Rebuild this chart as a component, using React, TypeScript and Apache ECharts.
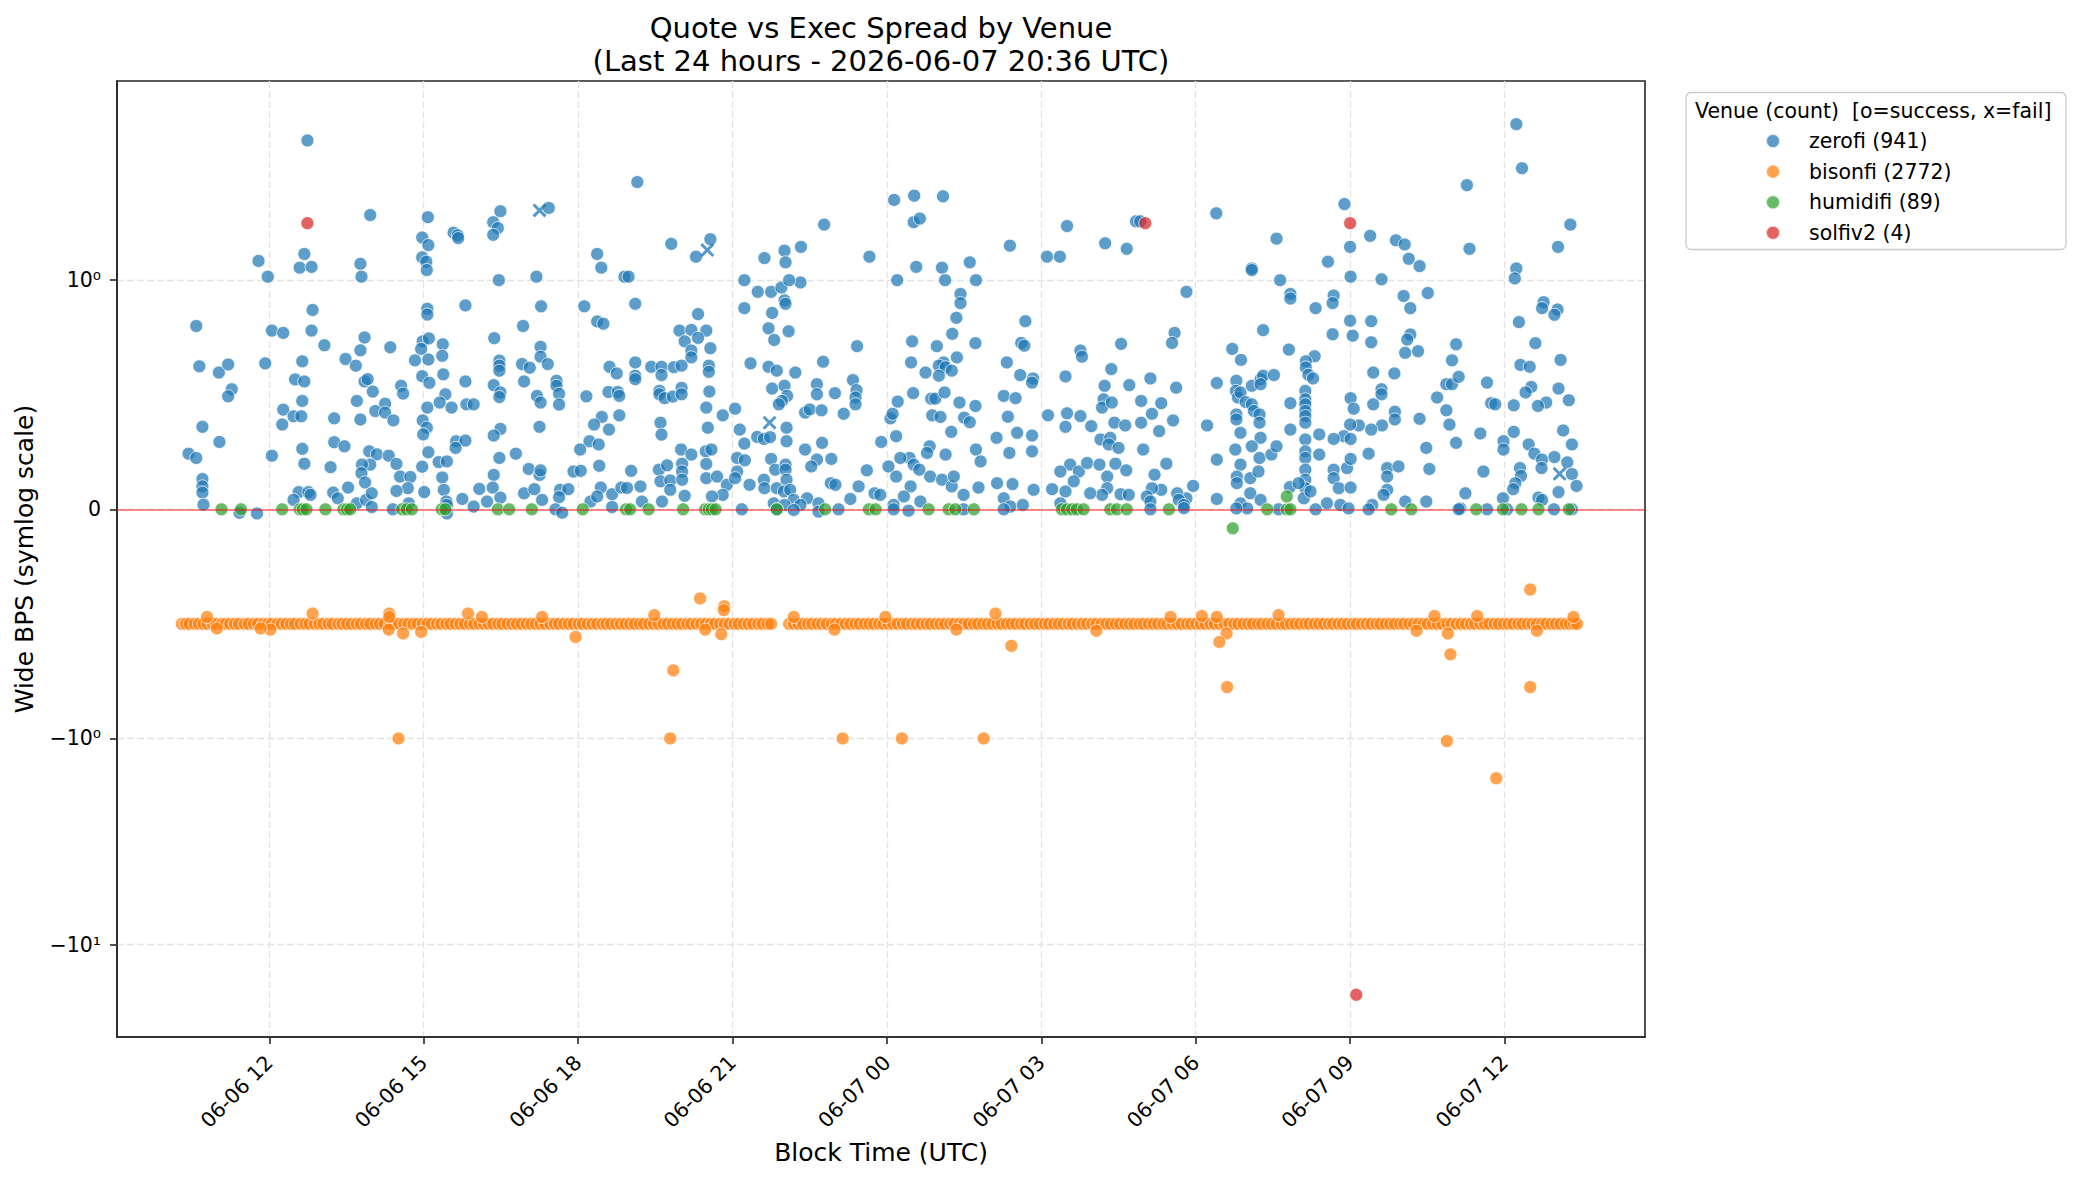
import { useEffect, useRef } from "react";
import * as echarts from "echarts";

// hours are counted from 2026-06-06 00:00 UTC, values are wide BPS
const venueNames = ["zerofi (941)", "bisonfi (2772)", "humidifi (89)", "solfiv2 (4)"];
const venueColors = ["#1f77b4", "#ff7f0e", "#2ca02c", "#d62728"];

const xTickHours = [12, 15, 18, 21, 24, 27, 30, 33, 36];
const yTickValues = [-10, -1, 0, 1];
const yTickLabels = ["\u221210\u00b9", "\u221210\u2070", "0", "10\u2070"];

const zerofi = [
  [12.74, 4.76], [13.96, 2.07], [15.08, 2.02], [15.58, 1.7], [15.66, 1.65], [15.67, 1.6], [16.49, 2.16], [16.35, 1.91],
  [16.44, 1.79], [16.35, 1.66], [17.43, 2.24], [11.79, 1.24], [11.97, 1.04], [12.68, 1.34], [12.59, 1.15], [12.82, 1.16],
  [13.77, 1.2], [13.79, 1.04], [14.97, 1.61], [15.09, 1.48], [14.97, 1.29], [15.05, 1.23], [15.06, 1.12], [16.46, 1.0],
  [17.19, 1.04], [18.37, 1.34], [18.45, 1.15], [18.9, 1.04], [12.84, 0.87], [15.81, 0.89], [15.07, 0.875], [15.07, 0.85],
  [17.28, 0.886], [18.12, 0.886], [10.58, 0.8], [12.05, 0.78], [12.27, 0.77], [12.82, 0.78], [16.93, 0.8], [18.37, 0.82],
  [18.49, 0.81], [13.85, 0.75], [13.07, 0.716], [13.77, 0.694], [14.35, 0.707], [14.98, 0.733], [15.1, 0.746], [14.95, 0.7],
  [15.37, 0.72], [15.36, 0.67], [16.37, 0.747], [17.27, 0.709], [17.27, 0.666], [10.64, 0.624], [11.02, 0.597], [11.2, 0.632],
  [11.92, 0.637], [12.64, 0.646], [13.48, 0.656], [13.68, 0.627], [14.83, 0.65], [15.09, 0.654], [16.47, 0.649], [16.47, 0.627],
  [16.47, 0.605], [16.91, 0.634], [17.06, 0.618], [17.41, 0.634], [18.61, 0.622], [18.75, 0.593], [12.5, 0.567], [12.68, 0.558],
  [13.85, 0.558], [13.91, 0.568], [15.38, 0.589], [14.97, 0.581], [15.11, 0.552], [15.81, 0.558], [16.36, 0.542], [16.49, 0.51],
  [16.47, 0.49], [16.95, 0.558], [17.58, 0.561], [17.58, 0.539], [17.63, 0.504], [17.63, 0.457], [11.27, 0.524], [11.2, 0.493],
  [14.56, 0.539], [14.6, 0.505], [14.01, 0.514], [18.59, 0.512], [18.77, 0.512], [18.8, 0.495], [18.16, 0.493], [12.64, 0.473],
  [13.7, 0.473], [15.42, 0.502], [15.31, 0.466], [15.83, 0.458], [15.97, 0.458], [15.54, 0.444], [14.25, 0.461], [14.06, 0.429],
  [14.25, 0.422], [15.07, 0.444], [17.2, 0.495], [17.27, 0.466], [12.27, 0.435], [12.47, 0.406], [12.62, 0.406], [13.26, 0.397],
  [13.77, 0.392], [14.41, 0.388], [12.25, 0.37], [10.7, 0.36], [14.98, 0.388], [15.06, 0.356], [14.99, 0.327], [16.49, 0.351],
  [16.36, 0.322], [17.25, 0.36], [18.46, 0.403], [18.31, 0.37], [18.6, 0.348], [18.8, 0.41], [11.03, 0.294], [13.26, 0.293],
  [13.46, 0.275], [15.63, 0.297], [15.81, 0.3], [15.62, 0.268], [18.22, 0.297], [18.4, 0.283], [12.64, 0.264], [18.04, 0.261],
  [10.43, 0.243], [10.58, 0.224], [12.05, 0.234], [13.94, 0.253], [14.09, 0.24], [14.32, 0.234], [13.96, 0.195], [13.8, 0.195],
  [15.09, 0.249], [15.29, 0.206], [15.45, 0.209], [16.47, 0.224], [16.79, 0.243], [12.68, 0.199], [13.19, 0.184], [14.47, 0.198],
  [14.97, 0.186], [18.41, 0.19], [10.7, 0.132], [10.7, 0.1], [10.7, 0.073], [13.79, 0.158], [13.86, 0.117], [14.54, 0.143],
  [14.74, 0.141], [14.69, 0.092], [15.36, 0.139], [16.36, 0.15], [17.04, 0.176], [17.25, 0.15], [17.27, 0.17], [17.91, 0.165],
  [18.05, 0.168], [13.53, 0.095], [14.47, 0.08], [13.24, 0.073], [13.33, 0.048], [12.57, 0.075], [12.76, 0.075], [12.8, 0.063],
  [12.47, 0.041], [15.01, 0.075], [15.39, 0.085], [15.44, 0.034], [15.45, 0.019], [16.08, 0.089], [16.34, 0.095], [16.23, 0.034],
  [16.49, 0.051], [15.75, 0.045], [15.97, 0.012], [16.95, 0.07], [17.15, 0.088], [17.3, 0.041], [17.65, 0.085], [17.81, 0.088],
  [17.63, 0.053], [18.44, 0.095], [18.66, 0.066], [18.84, 0.095], [18.24, 0.034], [18.37, 0.056], [13.7, 0.026], [13.88, 0.041],
  [13.99, 0.07], [14.71, 0.026], [11.42, -0.015], [11.76, -0.018], [13.99, 0.01], [14.4, 0], [15.45, -0.018], [17.56, 0],
  [17.69, -0.015], [18.66, 0.01], [10.72, 0.02],
  [19.15, 2.99], [18.98, 1.04], [19.11, 0.897], [19.81, 1.5], [20.57, 1.58], [20.29, 1.3], [21.23, 1.0], [21.23, 0.878],
  [21.62, 1.28], [22.01, 1.39], [22.03, 1.22], [22.33, 1.45], [22.32, 0.99], [21.49, 0.949], [21.75, 0.949], [21.95, 0.968],
  [22.1, 1.0], [22.01, 0.912], [22.03, 0.897], [21.77, 0.857], [21.7, 0.79], [21.81, 0.739], [22.09, 0.777], [22.78, 1.86],
  [23.66, 1.3], [24.14, 2.45], [24.53, 2.57], [25.09, 2.55], [24.52, 1.91], [24.64, 1.99], [24.57, 1.16], [24.2, 1.0],
  [25.07, 1.15], [25.13, 1.0], [25.61, 1.22], [25.73, 1.0], [25.43, 0.94], [25.43, 0.9], [25.35, 0.836], [25.27, 0.766],
  [25.72, 0.725], [26.39, 1.47], [26.69, 0.821], [27.11, 1.3], [27.36, 1.3], [27.5, 1.83], [28.24, 1.51], [28.66, 1.42],
  [28.84, 1.93], [20.33, 0.852], [19.97, 0.78], [20.2, 0.783], [20.49, 0.78], [20.07, 0.733], [20.33, 0.748], [20.57, 0.703],
  [20.2, 0.693], [20.2, 0.663], [19.11, 0.641], [19.11, 0.583], [19.11, 0.568], [19.42, 0.622], [19.62, 0.622], [19.86, 0.62],
  [20.01, 0.627], [19.62, 0.586], [20.54, 0.627], [20.54, 0.6], [19.58, 0.517], [19.58, 0.502], [19.68, 0.485], [19.84, 0.492],
  [20.01, 0.53], [20.01, 0.502], [20.55, 0.514], [20.49, 0.444], [20.81, 0.41], [21.05, 0.439], [20.52, 0.356], [19.6, 0.378],
  [19.62, 0.326], [21.35, 0.637], [21.7, 0.622], [21.86, 0.605], [22.22, 0.597], [21.77, 0.527], [22.01, 0.539], [22.06, 0.495],
  [21.96, 0.473], [21.9, 0.458], [22.76, 0.644], [22.64, 0.546], [22.64, 0.502], [22.99, 0.507], [23.42, 0.712], [23.34, 0.564],
  [23.41, 0.52], [23.39, 0.488], [23.39, 0.458], [22.41, 0.422], [22.5, 0.436], [22.73, 0.432], [23.16, 0.417], [21.14, 0.348],
  [22.05, 0.356], [21.48, 0.316], [21.61, 0.307], [21.73, 0.315], [22.05, 0.297], [21.23, 0.287], [22.74, 0.29], [22.41, 0.261],
  [22.64, 0.217], [22.53, 0.187], [22.92, 0.22], [20.0, 0.261], [20.2, 0.239], [20.48, 0.253], [20.59, 0.261], [19.03, 0.168],
  [19.21, 0.1], [19.57, 0.173], [19.73, 0.192], [20.02, 0.199], [20.02, 0.165], [19.6, 0.122], [19.79, 0.126], [19.79, 0.085],
  [20.02, 0.129], [20.07, 0.059], [19.63, 0.034], [19.24, 0.034], [20.49, 0.198], [20.49, 0.136], [20.7, 0.143], [20.89, 0.107],
  [20.81, 0.063], [20.6, 0.056], [21.09, 0.224], [21.09, 0.165], [21.24, 0.214], [21.05, 0.136], [21.33, 0.107], [21.61, 0.129],
  [21.62, 0.092], [21.75, 0.22], [21.83, 0.173], [22.03, 0.195], [22.03, 0.173], [22.05, 0.129], [21.86, 0.092], [22.0, 0.078],
  [22.12, 0.085], [22.19, 0.041], [21.8, 0.026], [22.01, 0.019], [22.45, 0.048], [22.67, 0.026], [22.67, -0.01], [22.32, 0.019],
  [22.91, 0.114], [23.0, 0.107], [23.45, 0.1], [23.29, 0.045], [23.61, 0.17], [23.76, 0.07], [23.87, 0.063], [23.89, 0.294],
  [24.18, 0.319], [24.07, 0.397], [24.11, 0.417], [24.21, 0.47], [24.51, 0.507], [24.49, 0.733], [24.47, 0.641], [24.75, 0.597],
  [24.97, 0.712], [25.1, 0.641], [25.01, 0.627], [25.14, 0.62], [25.01, 0.583], [25.26, 0.605], [25.36, 0.663], [24.86, 0.483],
  [24.94, 0.483], [25.12, 0.51], [25.41, 0.466], [25.72, 0.451], [24.88, 0.41], [25.04, 0.403], [25.5, 0.4], [25.61, 0.38],
  [25.25, 0.338], [25.73, 0.261], [25.82, 0.209], [25.14, 0.239], [24.83, 0.275], [24.78, 0.246], [24.44, 0.224], [24.52, 0.195],
  [24.63, 0.173], [24.03, 0.187], [24.18, 0.143], [24.26, 0.224], [24.84, 0.143], [25.07, 0.129], [25.26, 0.1], [25.3, 0.143],
  [24.46, 0.1], [24.33, 0.056], [24.65, 0.034], [24.13, 0.019], [25.49, 0.063], [25.78, 0.095], [26.13, 0.312], [26.27, 0.495],
  [26.5, 0.485], [26.33, 0.641], [26.59, 0.586], [26.84, 0.571], [26.82, 0.553], [26.61, 0.726], [26.67, 0.714], [26.35, 0.404],
  [26.53, 0.334], [26.82, 0.322], [26.82, 0.253], [26.38, 0.246], [26.14, 0.114], [26.44, 0.11], [26.85, 0.085], [26.27, 0.048],
  [26.4, 0.012], [26.64, 0.019], [27.21, 0.088], [27.13, 0.41], [27.47, 0.58], [27.5, 0.419], [27.47, 0.36], [27.76, 0.693],
  [27.79, 0.666], [27.76, 0.407], [27.97, 0.363], [28.55, 0.722], [28.36, 0.612], [28.23, 0.539], [28.71, 0.542], [28.21, 0.48],
  [28.18, 0.444], [28.37, 0.466], [28.42, 0.378], [28.63, 0.366], [28.15, 0.305], [28.34, 0.312], [28.31, 0.283], [28.5, 0.268],
  [27.56, 0.195], [27.37, 0.165], [27.73, 0.165], [27.63, 0.122], [27.89, 0.202], [28.13, 0.195], [28.44, 0.199], [28.65, 0.17],
  [28.28, 0.143], [28.28, 0.092], [28.54, 0.066], [28.18, 0.063], [28.7, 0.063], [27.47, 0.078], [27.37, 0.026], [27.95, 0.07],
  [21.18, 0], [21.86, 0], [22.19, -0.003], [23.06, 0], [24.13, 0], [24.42, -0.006], [26.27, 0], [25.49, 0], [18.95, 0.093],
  [28.92, 1.93], [30.4, 2.11], [32.89, 2.34], [36.23, 5.71], [36.34, 3.49], [35.27, 2.89], [35.32, 1.42], [37.28, 1.86],
  [37.04, 1.45], [31.57, 1.59], [33.0, 1.45], [33.39, 1.64], [33.89, 1.56], [34.06, 1.49], [34.14, 1.27], [34.35, 1.17],
  [32.57, 1.23], [31.09, 1.14], [31.09, 1.12], [31.64, 1.0], [33.01, 1.04], [33.61, 1.01], [36.23, 1.14], [36.2, 1.02],
  [29.82, 0.949], [31.84, 0.94], [31.84, 0.92], [32.68, 0.933], [32.66, 0.9], [32.33, 0.878], [34.04, 0.931], [34.17, 0.878],
  [34.51, 0.944], [33.0, 0.823], [33.41, 0.821], [32.66, 0.764], [33.05, 0.758], [33.41, 0.729], [31.31, 0.782], [29.59, 0.77],
  [29.54, 0.726], [34.17, 0.763], [34.11, 0.741], [34.07, 0.683], [34.32, 0.69], [36.76, 0.904], [36.73, 0.878], [37.03, 0.872],
  [36.97, 0.849], [36.28, 0.817], [36.6, 0.725], [35.06, 0.72], [34.98, 0.65], [37.09, 0.652], [30.71, 0.7], [30.88, 0.652],
  [31.81, 0.697], [32.31, 0.668], [32.14, 0.646], [32.14, 0.619], [32.19, 0.587], [32.28, 0.571], [29.12, 0.571], [29.62, 0.531],
  [30.41, 0.551], [30.79, 0.561], [30.78, 0.517], [30.82, 0.488], [31.09, 0.539], [31.26, 0.568], [31.31, 0.583], [31.52, 0.586],
  [31.26, 0.546], [33.45, 0.597], [33.86, 0.593], [33.61, 0.524], [33.61, 0.502], [33.45, 0.458], [33.01, 0.485], [33.07, 0.439],
  [32.13, 0.517], [32.13, 0.48], [32.13, 0.458], [32.13, 0.429], [32.13, 0.407], [32.13, 0.378], [31.84, 0.463], [28.94, 0.473],
  [29.33, 0.463], [29.15, 0.417], [28.94, 0.378], [29.56, 0.388], [29.29, 0.341], [30.22, 0.366], [30.79, 0.414], [30.79, 0.392],
  [30.87, 0.334], [30.87, 0.51], [30.97, 0.468], [31.09, 0.458], [31.13, 0.429], [31.24, 0.414], [31.24, 0.378], [31.26, 0.312],
  [31.84, 0.348], [34.69, 0.488], [34.87, 0.546], [34.98, 0.546], [35.11, 0.578], [34.87, 0.432], [34.93, 0.37], [35.06, 0.29],
  [35.66, 0.553], [35.74, 0.463], [35.82, 0.458], [35.53, 0.331], [36.18, 0.454], [36.18, 0.338], [36.31, 0.63], [36.49, 0.622],
  [36.52, 0.534], [36.41, 0.51], [36.81, 0.466], [36.65, 0.451], [37.05, 0.527], [37.25, 0.476], [37.14, 0.344], [34.35, 0.395],
  [33.87, 0.426], [33.87, 0.392], [33.62, 0.366], [33.41, 0.348], [33.17, 0.366], [33.0, 0.37], [32.88, 0.319], [33.01, 0.307],
  [32.4, 0.327], [32.68, 0.307], [32.13, 0.305], [32.13, 0.253], [32.13, 0.224], [32.13, 0.173], [32.13, 0.129], [32.13, 0.092],
  [32.4, 0.239], [30.77, 0.261], [30.87, 0.195], [30.8, 0.143], [30.8, 0.114], [31.06, 0.136], [31.24, 0.224], [31.22, 0.165],
  [31.09, 0.275], [31.47, 0.239], [31.57, 0.275], [30.41, 0.217], [28.98, 0.261], [29.43, 0.199], [29.2, 0.151], [29.33, 0.085],
  [29.15, 0.092], [29.05, 0.056], [29.95, 0.102], [29.82, 0.048], [29.64, 0.07], [29.67, 0.041], [29.77, 0.019], [29.12, 0.034],
  [30.41, 0.045], [31.83, 0.097], [32.0, 0.114], [32.1, 0.048], [32.23, 0.078], [31.06, 0.07], [31.26, 0.041], [30.87, 0.026],
  [31.0, 0.004], [32.68, 0.173], [32.68, 0.136], [32.78, 0.092], [33.01, 0.095], [32.94, 0.18], [33.01, 0.22], [32.55, 0.026],
  [32.81, 0.019], [32.97, 0.004], [33.36, 0.243], [33.72, 0.18], [33.72, 0.143], [33.94, 0.187], [33.72, 0.085], [33.65, 0.063],
  [33.43, 0.019], [33.36, 0], [34.48, 0.268], [34.54, 0.176], [34.48, 0.034], [34.07, 0.034], [35.59, 0.165], [35.24, 0.07],
  [35.14, 0.004], [35.66, 0], [35.98, 0.297], [35.98, 0.261], [36.3, 0.18], [36.32, 0.146], [36.21, 0.114], [36.17, 0.088],
  [36.47, 0.283], [36.58, 0.243], [36.73, 0.217], [36.72, 0.18], [36.97, 0.228], [37.22, 0.205], [37.31, 0.154], [37.4, 0.102],
  [37.05, 0.075], [37.31, 0.283], [35.97, 0.048], [36.66, 0.051], [36.73, 0.041], [29.12, 0], [29.77, 0.005], [30.79, 0.004],
  [31.61, 0], [32.33, 0], [36.96, 0], [37.31, 0], [35.11, 0], [36.05, 0],
];

// zerofi swaps that failed (drawn with x)
const zerofiFailed = [[17.25, 2.18], [20.51, 1.4], [21.72, 0.378], [37.07, 0.155]];

const bisonfi = [
  [10.3, -0.5], [10.38, -0.5], [10.45, -0.5], [10.55, -0.5], [10.63, -0.5], [10.72, -0.5], [10.8, -0.5], [10.9, -0.5],
  [10.97, -0.5], [11.08, -0.5], [11.15, -0.5], [11.24, -0.5], [11.33, -0.5], [11.41, -0.5], [11.52, -0.5], [11.6, -0.5],
  [11.7, -0.5], [11.78, -0.5], [11.88, -0.5], [11.97, -0.5], [12.05, -0.5], [12.16, -0.5], [12.24, -0.5], [12.33, -0.5],
  [12.42, -0.5], [12.5, -0.5], [12.61, -0.5], [12.7, -0.5], [12.78, -0.5], [12.88, -0.5], [12.97, -0.5], [13.05, -0.5],
  [13.15, -0.5], [13.23, -0.5], [13.34, -0.5], [13.42, -0.5], [13.51, -0.5], [13.6, -0.5], [13.7, -0.5], [13.78, -0.5],
  [13.88, -0.5], [13.96, -0.5], [14.07, -0.5], [14.15, -0.5], [14.24, -0.5], [14.35, -0.5], [14.43, -0.5], [14.52, -0.5],
  [14.62, -0.5], [14.7, -0.5], [14.8, -0.5], [14.88, -0.5], [14.98, -0.5], [15.07, -0.5], [15.16, -0.5], [15.26, -0.5],
  [15.34, -0.5], [15.44, -0.5], [15.52, -0.5], [15.62, -0.5], [15.71, -0.5], [15.8, -0.5], [15.9, -0.5], [15.98, -0.5],
  [16.08, -0.5], [16.17, -0.5], [16.26, -0.5], [16.35, -0.5], [16.45, -0.5], [16.53, -0.5], [16.63, -0.5], [16.72, -0.5],
  [16.81, -0.5], [16.9, -0.5], [17.0, -0.5], [17.09, -0.5], [17.18, -0.5], [17.27, -0.5], [17.36, -0.5], [17.46, -0.5],
  [17.55, -0.5], [17.63, -0.5], [17.73, -0.5], [17.82, -0.5], [17.91, -0.5], [18.01, -0.5], [18.09, -0.5], [18.19, -0.5],
  [18.28, -0.5], [18.37, -0.5], [18.47, -0.5], [18.55, -0.5], [18.64, -0.5], [18.74, -0.5], [18.83, -0.5], [18.92, -0.5],
  [19.01, -0.5], [19.1, -0.5], [19.2, -0.5], [19.28, -0.5], [19.38, -0.5], [19.47, -0.5], [19.56, -0.5], [19.66, -0.5],
  [19.74, -0.5], [19.84, -0.5], [19.93, -0.5], [20.02, -0.5], [20.12, -0.5], [20.2, -0.5], [20.3, -0.5], [20.39, -0.5],
  [20.48, -0.5], [20.58, -0.5], [20.66, -0.5], [20.76, -0.5], [20.85, -0.5], [20.94, -0.5], [21.04, -0.5], [21.12, -0.5],
  [21.22, -0.5], [21.31, -0.5], [21.4, -0.5], [21.5, -0.5], [21.58, -0.5], [21.68, -0.5], [21.75, -0.5], [22.1, -0.5],
  [22.19, -0.5], [22.28, -0.5], [22.37, -0.5], [22.47, -0.5], [22.55, -0.5], [22.65, -0.5], [22.74, -0.5], [22.83, -0.5],
  [22.93, -0.5], [23.01, -0.5], [23.11, -0.5], [23.2, -0.5], [23.29, -0.5], [23.39, -0.5], [23.47, -0.5], [23.57, -0.5],
  [23.66, -0.5], [23.75, -0.5], [23.85, -0.5], [23.93, -0.5], [24.03, -0.5], [24.12, -0.5], [24.21, -0.5], [24.31, -0.5],
  [24.39, -0.5], [24.49, -0.5], [24.58, -0.5], [24.67, -0.5], [24.77, -0.5], [24.85, -0.5], [24.95, -0.5], [25.04, -0.5],
  [25.13, -0.5], [25.23, -0.5], [25.31, -0.5], [25.41, -0.5], [25.5, -0.5], [25.59, -0.5], [25.69, -0.5], [25.77, -0.5],
  [25.87, -0.5], [25.96, -0.5], [26.05, -0.5], [26.15, -0.5], [26.23, -0.5], [26.33, -0.5], [26.42, -0.5], [26.51, -0.5],
  [26.61, -0.5], [26.69, -0.5], [26.79, -0.5], [26.88, -0.5], [26.97, -0.5], [27.07, -0.5], [27.15, -0.5], [27.25, -0.5],
  [27.34, -0.5], [27.43, -0.5], [27.53, -0.5], [27.61, -0.5], [27.71, -0.5], [27.8, -0.5], [27.89, -0.5], [27.99, -0.5],
  [28.07, -0.5], [28.17, -0.5], [28.26, -0.5], [28.35, -0.5], [28.45, -0.5], [28.53, -0.5], [28.63, -0.5], [28.72, -0.5],
  [28.81, -0.5], [28.91, -0.5], [28.99, -0.5], [29.09, -0.5], [29.18, -0.5], [29.27, -0.5], [29.37, -0.5], [29.45, -0.5],
  [29.55, -0.5], [29.64, -0.5], [29.73, -0.5], [29.83, -0.5], [29.91, -0.5], [30.01, -0.5], [30.1, -0.5], [30.19, -0.5],
  [30.29, -0.5], [30.37, -0.5], [30.47, -0.5], [30.56, -0.5], [30.65, -0.5], [30.75, -0.5], [30.83, -0.5], [30.93, -0.5],
  [31.02, -0.5], [31.11, -0.5], [31.21, -0.5], [31.29, -0.5], [31.39, -0.5], [31.48, -0.5], [31.57, -0.5], [31.67, -0.5],
  [31.75, -0.5], [31.85, -0.5], [31.94, -0.5], [32.03, -0.5], [32.13, -0.5], [32.21, -0.5], [32.31, -0.5], [32.4, -0.5],
  [32.49, -0.5], [32.59, -0.5], [32.67, -0.5], [32.77, -0.5], [32.86, -0.5], [32.95, -0.5], [33.05, -0.5], [33.13, -0.5],
  [33.23, -0.5], [33.32, -0.5], [33.41, -0.5], [33.51, -0.5], [33.59, -0.5], [33.69, -0.5], [33.78, -0.5], [33.87, -0.5],
  [33.97, -0.5], [34.05, -0.5], [34.15, -0.5], [34.24, -0.5], [34.33, -0.5], [34.43, -0.5], [34.51, -0.5], [34.61, -0.5],
  [34.7, -0.5], [34.79, -0.5], [34.89, -0.5], [34.97, -0.5], [35.07, -0.5], [35.16, -0.5], [35.25, -0.5], [35.35, -0.5],
  [35.43, -0.5], [35.53, -0.5], [35.62, -0.5], [35.71, -0.5], [35.81, -0.5], [35.89, -0.5], [35.99, -0.5], [36.08, -0.5],
  [36.17, -0.5], [36.27, -0.5], [36.35, -0.5], [36.45, -0.5], [36.54, -0.5], [36.63, -0.5], [36.73, -0.5], [36.81, -0.5],
  [36.91, -0.5], [37.0, -0.5], [37.09, -0.5], [37.19, -0.5], [37.27, -0.5], [37.35, -0.5], [37.41, -0.5],
  // off-band fills
  [12.84, -0.455], [14.33, -0.455], [14.33, -0.47], [15.86, -0.455], [12.02, -0.525], [10.98, -0.52], [11.83, -0.52],
  [14.6, -0.542], [14.95, -0.535], [14.32, -0.525], [17.95, -0.557], [14.51, -1.0], [10.79, -0.47], [16.13, -0.47],
  [17.3, -0.47], [19.48, -0.462], [20.37, -0.389], [20.84, -0.423], [20.83, -0.44], [20.78, -0.545], [20.47, -0.525],
  [19.85, -0.703], [19.79, -1.0], [22.19, -0.47], [22.98, -0.525], [23.14, -1.0], [23.97, -0.47], [24.29, -1.0],
  [25.88, -1.0], [26.11, -0.455], [26.42, -0.596], [25.35, -0.525], [28.07, -0.53], [29.51, -0.47], [30.12, -0.466],
  [30.41, -0.47], [30.6, -0.542], [30.46, -0.579], [30.61, -0.776], [31.61, -0.462], [34.29, -0.53], [34.64, -0.466],
  [34.9, -0.542], [34.95, -0.633], [34.88, -1.03], [35.47, -0.466], [35.84, -1.56], [36.5, -0.35], [36.5, -0.776],
  [37.34, -0.47], [36.63, -0.53],
];

const humidifi = [
  [11.07, 0], [11.45, 0], [12.25, 0], [12.59, 0], [12.65, 0], [12.72, 0], [13.09, 0], [13.44, 0], [13.51, 0], [13.57, 0],
  [14.58, 0], [14.67, 0], [14.77, 0], [15.35, 0], [15.42, 0], [16.44, 0], [16.66, 0], [17.1, 0], [18.09, 0], [18.93, 0],
  [19.01, 0], [19.37, 0], [20.04, 0], [20.47, 0], [20.54, 0], [20.6, 0], [20.67, 0], [21.86, 0], [22.8, 0], [23.65, 0],
  [23.78, 0], [24.81, 0], [25.2, 0], [25.33, 0], [25.69, 0], [27.4, 0], [27.5, 0], [27.6, 0], [27.69, 0], [27.82, 0],
  [28.34, 0], [28.47, 0], [28.66, 0], [29.48, 0], [31.39, 0], [31.77, 0], [31.84, 0], [33.8, 0], [34.19, 0], [35.45, 0],
  [35.97, 0], [36.33, 0], [36.66, 0], [37.25, 0], [31.77, 0.056], [30.72, -0.083],
];

const solfiv2 = [[12.74, 1.89], [29.02, 1.89], [33.0, 1.89], [33.12, -17.5]];

const FONT = '"DejaVu Sans", sans-serif';
const LIN = 1 / (1 - 1 / 10);

// matplotlib symlog, linthresh 1, linscale 1, base 10
function symlog(v: number) {
  const a = Math.abs(v);
  return a <= 1 ? v * LIN : Math.sign(v) * (LIN + Math.log10(a));
}

function hourLabel(h: number) {
  const day = 6 + Math.floor(h / 24);
  const hh = String(h % 24).padStart(2, "0");
  return `06-0${day} ${hh}`;
}

const X_CROSS =
  "path://M1.5,0 L5,3.5 L8.5,0 L10,1.5 L6.5,5 L10,8.5 L8.5,10 L5,6.5 L1.5,10 L0,8.5 L3.5,5 L0,1.5 Z";

export default function App() {
  const chartRef = useRef<HTMLDivElement>(null);

  useEffect(() => {
    document.body.style.margin = "0";
    if (!chartRef.current) return;
    const chart = echarts.init(chartRef.current, undefined, { renderer: "svg" });

    const yTickPos = yTickValues.map(symlog);
    const toPoints = (arr: number[][]) => arr.map(([h, v]) => [h, symlog(v)]);

    const scatter = (name: string, color: string, data: number[][]) => ({
      name,
      type: "scatter",
      data: toPoints(data),
      symbol: "circle",
      symbolSize: 13,
      itemStyle: { color, opacity: 0.72, borderColor: "#ffffff", borderWidth: 1 },
      emphasis: { disabled: true },
      silent: true,
    });

    const humidifiSeries: any = scatter(venueNames[2], venueColors[2], humidifi);
    humidifiSeries.markLine = {
      silent: true,
      symbol: "none",
      label: { show: false },
      lineStyle: { color: "#ff0000", width: 1.6, opacity: 0.6, type: "solid" },
      data: [{ yAxis: 0 }],
    };

    const axisColor = "#262626";
    const gridLine = { show: true, lineStyle: { color: "#e3e3e3", width: 1.3, type: [7, 3] } };

    const option = {
      animation: false,
      backgroundColor: "#ffffff",
      textStyle: { fontFamily: FONT },
      grid: {
        left: 117,
        top: 81,
        width: 1528,
        height: 956,
        show: true,
        borderColor: axisColor,
        borderWidth: 1.6,
        backgroundColor: "transparent",
      },
      xAxis: {
        type: "value",
        min: 9.04,
        max: 38.73,
        name: "Block Time (UTC)",
        nameLocation: "middle",
        nameGap: 103,
        nameTextStyle: { fontSize: 25, color: "#000", fontFamily: FONT },
        axisLine: { show: true, onZero: false, lineStyle: { color: axisColor, width: 1.6 } },
        axisTick: { show: true, length: 7, lineStyle: { color: axisColor, width: 1.6 }, customValues: xTickHours },
        axisLabel: {
          customValues: xTickHours,
          rotate: 45,
          margin: 22,
          fontSize: 20.5,
          color: "#000",
          fontFamily: FONT,
          formatter: (v: number) => hourLabel(v),
        },
        splitLine: gridLine,
      },
      yAxis: {
        type: "value",
        min: -2.559,
        max: 2.077,
        name: "Wide BPS (symlog scale)",
        nameLocation: "middle",
        nameGap: 80,
        nameTextStyle: { fontSize: 25, color: "#000", fontFamily: FONT },
        axisLine: { show: true, onZero: false, lineStyle: { color: axisColor, width: 1.6 } },
        axisTick: { show: true, length: 7, lineStyle: { color: axisColor, width: 1.6 }, customValues: yTickPos },
        axisLabel: {
          customValues: yTickPos,
          margin: 16,
          fontSize: 20.5,
          color: "#000",
          fontFamily: FONT,
          formatter: (v: number) => {
            const i = yTickPos.findIndex((p) => Math.abs(p - v) < 1e-6);
            return i >= 0 ? yTickLabels[i] : "";
          },
        },
        splitLine: gridLine,
      },
      legend: {
        data: venueNames,
        orient: "vertical",
        left: 1765,
        top: 130.5,
        padding: 0,
        itemWidth: 62,
        itemHeight: 14,
        itemGap: 9.6,
        icon: "circle",
        selectedMode: false,
        textStyle: { fontSize: 20.5, color: "#000", fontFamily: FONT },
      },
      graphic: [
        {
          type: "rect",
          z: 0,
          shape: { x: 1686, y: 92.5, width: 380, height: 157, r: 5 },
          style: { fill: "rgba(255,255,255,0.8)", stroke: "#cccccc", lineWidth: 1.3 },
        },
        {
          type: "text",
          z: 10,
          x: 1695,
          y: 111,
          style: {
            text: "Venue (count)  [o=success, x=fail]",
            fontSize: 20.5,
            fontFamily: FONT,
            fill: "#000",
            textAlign: "left",
            textVerticalAlign: "middle",
          },
        },
        {
          type: "text",
          z: 10,
          x: 881,
          y: 28,
          style: {
            text: "Quote vs Exec Spread by Venue",
            fontSize: 29,
            fontFamily: FONT,
            fill: "#000",
            textAlign: "center",
            textVerticalAlign: "middle",
          },
        },
        {
          type: "text",
          z: 10,
          x: 881,
          y: 61,
          style: {
            text: "(Last 24 hours - 2026-06-07 20:36 UTC)",
            fontSize: 29,
            fontFamily: FONT,
            fill: "#000",
            textAlign: "center",
            textVerticalAlign: "middle",
          },
        },
      ],
      series: [
        scatter(venueNames[0], venueColors[0], zerofi),
        scatter(venueNames[1], venueColors[1], bisonfi),
        humidifiSeries,
        scatter(venueNames[3], venueColors[3], solfiv2),
        {
          name: "zerofi failed",
          type: "scatter",
          data: toPoints(zerofiFailed),
          symbol: X_CROSS,
          symbolSize: 14,
          itemStyle: { color: venueColors[0], opacity: 0.75 },
          emphasis: { disabled: true },
          silent: true,
        },
      ],
    };

    chart.setOption(option as any);

    return () => {
      chart.dispose();
    };
  }, []);

  return <div ref={chartRef} style={{ width: "2080px", height: "1180px" }} />;
}
